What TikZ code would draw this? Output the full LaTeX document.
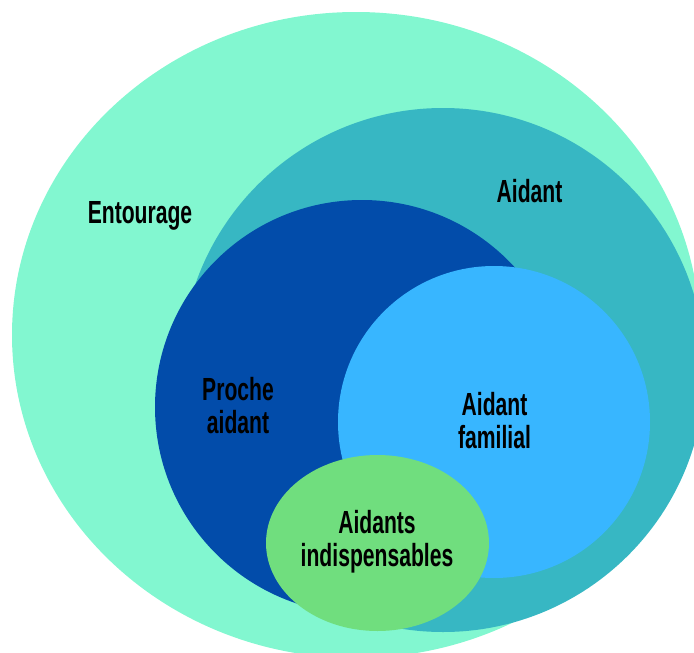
\documentclass[tikz,border=0pt]{standalone}
\usepackage{fontspec}
\usepackage{graphicx}
\setmainfont{Liberation Sans}
\usetikzlibrary{positioning}
\definecolor{menthe}{RGB}{130,247,208}
\definecolor{sarcelle}{RGB}{55,183,195}
\definecolor{nuit}{RGB}{2,76,170}
\definecolor{ciel}{RGB}{56,182,255}
\definecolor{pomme}{RGB}{112,222,126}
\newcommand{\serre}[1]{\scalebox{0.66}[1]{#1}}

\begin{document}
\begin{tikzpicture}[x=1pt,y=-1pt,
  txt/.style={font=\bfseries\fontsize{32}{33}\selectfont, align=center, inner sep=0pt}]
\useasboundingbox (0,0) rectangle (694,653);
\clip (0,0) rectangle (694,653);

\fill[menthe] (356,335) ellipse [x radius=344, y radius=323];
\fill[sarcelle] (443,370) circle [radius=262];
\fill[nuit] (362,407) circle [radius=207];
\fill[ciel] (494,422) circle [radius=156];
\fill[pomme] (377.5,543) ellipse [x radius=111.5, y radius=88];

\node[txt, anchor=base] (entourage) at (140,223) {\serre{Entourage}};
\node[txt, anchor=base] (aidant) at (529.5,202) {\serre{Aidant}};
\node[txt] (proche) at (238,406) {\serre{Proche}\\\serre{aidant}};
\node[txt] (familial) at (494.5,421) {\serre{Aidant}\\\serre{familial}};
\node[txt] (indisp) at (377,542) {\serre{Aidants}\\\serre{indispensables}};
\end{tikzpicture}
\end{document}
